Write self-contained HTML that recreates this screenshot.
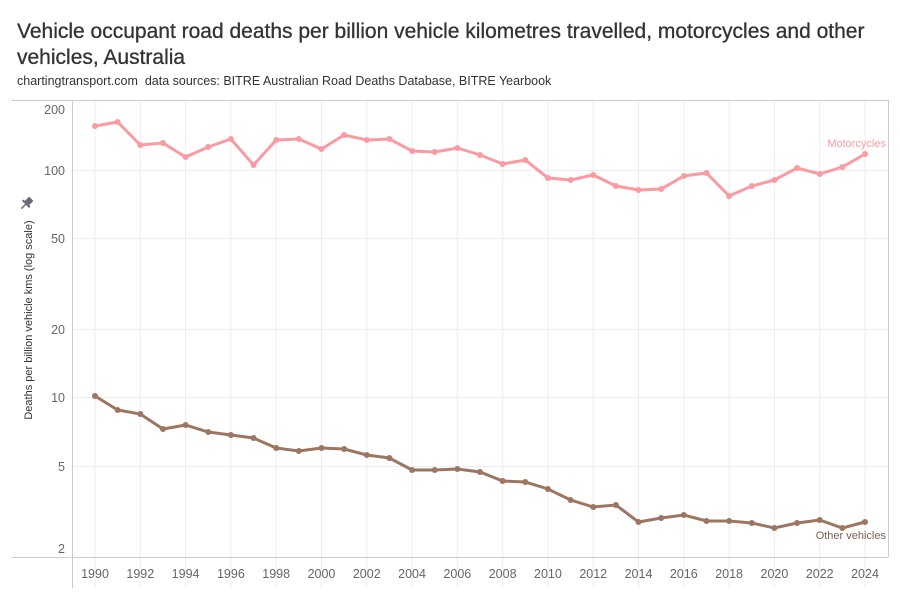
<!DOCTYPE html>
<html><head><meta charset="utf-8"><style>
body{margin:0;background:#fff;width:900px;height:600px;overflow:hidden;font-family:"Liberation Sans",sans-serif}
.t{position:absolute;left:17px;top:19px;font-size:21px;color:#333;line-height:26px;width:880px;-webkit-text-stroke:0.3px #333}
.s{position:absolute;left:17px;top:74px;font-size:12.5px;color:#333}
</style></head><body>
<div class="t">Vehicle occupant road deaths per billion vehicle kilometres travelled, motorcycles and other vehicles, Australia</div>
<div class="s">chartingtransport.com&nbsp; data sources: BITRE Australian Road Deaths Database, BITRE Yearbook</div>
<svg width="900" height="600" style="position:absolute;left:0;top:0" font-family="Liberation Sans, sans-serif">
<g stroke="#eee" stroke-width="1">
<line x1="73" x2="888" y1="170.5" y2="170.5"/><line x1="73" x2="888" y1="238.5" y2="238.5"/>
<line x1="73" x2="888" y1="329.5" y2="329.5"/><line x1="73" x2="888" y1="397.5" y2="397.5"/>
<line x1="73" x2="888" y1="466.5" y2="466.5"/>
<g id="vg"></g>
</g>
<g stroke="#ccc"><line x1="12" x2="888" y1="100.5" y2="100.5"/><line x1="12" x2="888" y1="557.5" y2="557.5"/>
<line x1="72.5" x2="72.5" y1="100" y2="588"/><line x1="888.5" x2="888.5" y1="100" y2="557"/></g>
<g font-size="12.5" fill="#666" text-anchor="end">
<text x="65" y="114">200</text><text x="65" y="175">100</text><text x="65" y="243">50</text>
<text x="65" y="334">20</text><text x="65" y="402">10</text><text x="65" y="471">5</text><text x="65" y="553">2</text>
</g>
<text transform="translate(32,320) rotate(-90)" font-size="11" fill="#333" text-anchor="middle">Deaths per billion vehicle kms (log scale)</text>
<g transform="translate(27,203) rotate(45)" fill="#667"><rect x="-3" y="-6" width="6" height="6"/><rect x="-5" y="0" width="10" height="2"/><rect x="-0.7" y="2" width="1.4" height="6"/></g>
<g id="xl" font-size="12.5" fill="#666" text-anchor="middle"></g>
<polyline id="m" fill="none" stroke="#fc9aa3" stroke-width="3"/>
<polyline id="o" fill="none" stroke="#9c7660" stroke-width="3"/>
<g id="dots"></g>
<text x="886" y="147" font-size="11" fill="#fc9aa3" text-anchor="end">Motorcycles</text>
<text x="886" y="539" font-size="11" fill="#7a6255" text-anchor="end">Other vehicles</text>
</svg>
<script>
var m=[126,122,145,143,157,147,139,165,140,139,149,135,140,139,151,152,148,155,164,160,178,180,175,186,190,189,176,173,196,186,180,168,174,167,154];
var o=[396,410,414,429,425,432,435,438,448,451,448,449,455,458,470,470,469,472,481,482,489,500,507,505,522,518,515,521,521,523,528,523,520,528,522];
var ns="http://www.w3.org/2000/svg",X=function(i){return 95+i*770/34};
var pm=[],po=[],d=document.getElementById('dots'),vg=document.getElementById('vg'),xl=document.getElementById('xl');
for(var i=0;i<35;i++){pm.push(X(i)+','+m[i]);po.push(X(i)+','+o[i]);
[[m[i],'#fc9aa3'],[o[i],'#9c7660']].forEach(function(a){var c=document.createElementNS(ns,'circle');c.setAttribute('cx',X(i));c.setAttribute('cy',a[0]);c.setAttribute('r',3);c.setAttribute('fill',a[1]);d.appendChild(c);});
if(i%2==0){var l=document.createElementNS(ns,'line');l.setAttribute('x1',X(i));l.setAttribute('x2',X(i));l.setAttribute('y1',101);l.setAttribute('y2',588);vg.appendChild(l);
var t=document.createElementNS(ns,'text');t.setAttribute('x',X(i));t.setAttribute('y',578);t.textContent=1990+i;xl.appendChild(t);}}
document.getElementById('m').setAttribute('points',pm.join(' '));
document.getElementById('o').setAttribute('points',po.join(' '));
</script>
</body></html>
